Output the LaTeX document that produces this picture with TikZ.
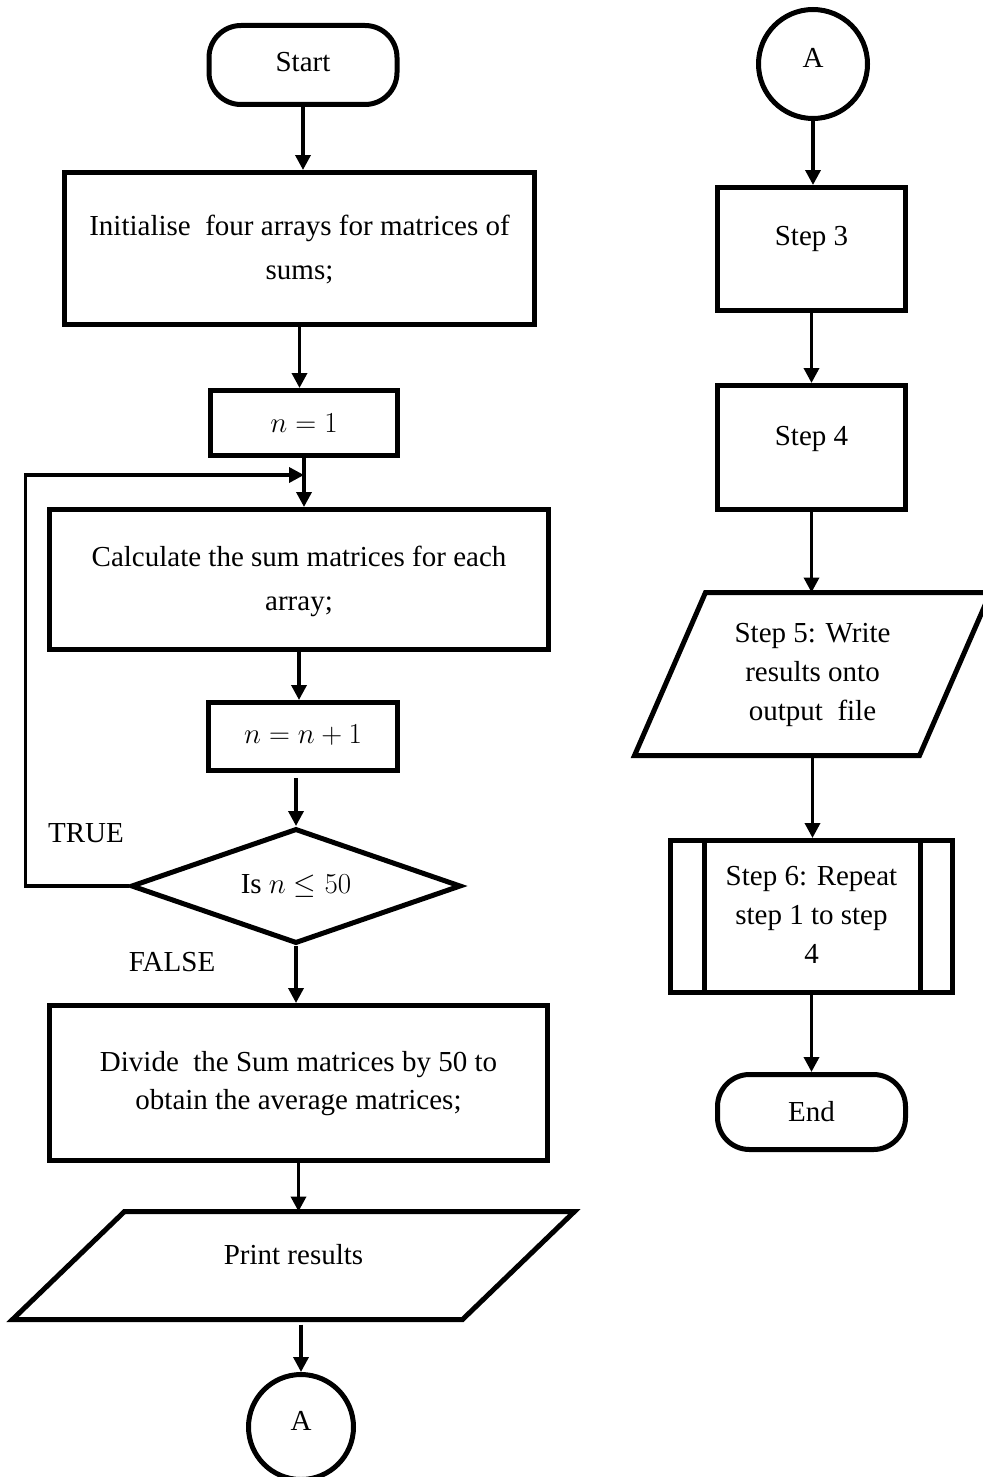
\RequirePackage{fix-cm}
\documentclass[tikz,border=0pt]{standalone}
\usepackage{fontspec}
\setmainfont{Liberation Serif}
\usetikzlibrary{arrows.meta,shapes.geometric}

% Text block for a shape: raised by #1, baselineskip #2, lines #3
\newcommand\liftedtext[3]{\raisebox{#1}{\fontsize{29}{#2}\selectfont
  \setbox\strutbox\hbox{\vrule height.7\baselineskip depth.3\baselineskip width0pt}%
  \begin{tabular}{@{}c@{}}#3\end{tabular}}}

\begin{document}
\begin{tikzpicture}[x=1pt,y=-1pt,
  every node/.style={font=\fontsize{29}{35}\selectfont, inner sep=0pt},
  shape line/.style={draw, line width=5pt},
  flowbox/.style args={#1x#2}{shape line, rectangle, minimum width=#1pt, minimum height=#2pt},
  terminal/.style args={#1x#2}{shape line, rectangle, rounded corners=32pt, minimum width=#1pt, minimum height=#2pt},
  connector/.style={shape line, circle, minimum size=#1pt},
  decision/.style args={#1x#2}{shape line, diamond, aspect=2.8, minimum width=#1pt, minimum height=#2pt},
  slantbox/.style args={#1x#2}{rectangle, outer sep=0pt, minimum width=#1pt, minimum height=#2pt},
  flowarrow/.style={line width=3.5pt, -{Triangle[length=15pt,width=15pt]}}]

\useasboundingbox (0,0) rectangle (982,1477);

% ---- left column ----
\node[terminal=188x79] (start) at (303,65) {\liftedtext{6pt}{35pt}{Start}};
\node[flowbox=470x152] (init) at (299.5,248.5)
  {\liftedtext{7pt}{44pt}{Initialise\ \ four arrays for matrices of\\sums;}};
\node[flowbox=187x65] (n1) at (304,423) {$n=1$};
\node[flowbox=499x140] (calc) at (299,579.5)
  {\liftedtext{0pt}{44pt}{Calculate the sum matrices for each\\array;}};
\node[flowbox=189x68] (nn1) at (303,736.5) {\liftedtext{8pt}{35pt}{$n=n+1$}};
\node[decision=330x115] (dec) at (296,886) {Is $n\leq 50$};
\node[flowbox=498x155] (divide) at (298.5,1083)
  {\liftedtext{0pt}{38pt}{Divide\ \ the Sum matrices by 50 to\\obtain the average matrices;}};
\node[slantbox=562x108] (print) at (293.5,1265.5) {\liftedtext{27pt}{35pt}{Print results}};
\draw[shape line] ([xshift=112]print.north west) -- (print.north east)
  -- ([xshift=-112]print.south east) -- (print.south west) -- cycle;
\node[connector=105] (Aleft) at (301,1427) {\liftedtext{18pt}{35pt}{A}};

\node (truelbl) at (86,833) {TRUE};
\node (falselbl) at (172,962) {FALSE};

\coordinate (join) at ([yshift=-17]n1.south);

\draw[flowarrow] (start.south) -- (start.south |- init.north);
\draw[flowarrow] (init.south) -- (init.south |- n1.north);
\draw[flowarrow] (n1.south) -- (n1.south |- calc.north);
\draw[flowarrow] (calc.south) -- (calc.south |- nn1.north);
\draw[flowarrow, shorten <=5pt] (dec.north |- nn1.south) -- (dec.north);
\draw[flowarrow] (dec.west) -- ++(-103,0) |- (join);
\draw[flowarrow] (dec.south) -- (dec.south |- divide.north);
\draw[flowarrow] (divide.south) -- (divide.south |- print.north);
\draw[flowarrow, shorten <=5pt] (Aleft.north |- print.south) -- (Aleft.north);

% ---- right column ----
\node[connector=109] (Aright) at (813,64) {\liftedtext{18pt}{35pt}{A}};
\node[flowbox=188x123] (s3) at (811.5,249) {\liftedtext{32pt}{35pt}{Step 3}};
\node[flowbox=188x124] (s4) at (811.5,447.5) {\liftedtext{29pt}{35pt}{Step 4}};
\node[slantbox=356x163] (s5) at (812.5,674)
  {\liftedtext{32pt}{39pt}{Step 5: Write\\results onto\\output\ \ file}};
\draw[shape line] ([xshift=71]s5.north west) -- (s5.north east)
  -- ([xshift=-71]s5.south east) -- (s5.south west) -- cycle;
\node[flowbox=282x152] (s6) at (811.5,916.5)
  {\liftedtext{21pt}{39pt}{Step 6: Repeat\\step 1 to step\\4}};
\draw[shape line] ([xshift=36]s6.north west) -- ([xshift=36]s6.south west)
  ([xshift=-35]s6.north east) -- ([xshift=-35]s6.south east);
\node[terminal=188x75] (end) at (811.5,1112) {End};

\draw[flowarrow] (Aright.south) -- (Aright.south |- s3.north);
\draw[flowarrow] (s3.south) -- (s3.south |- s4.north);
\draw[flowarrow] (s4.south) -- (s4.south |- s5.north);
\draw[flowarrow] (s5.south) -- (s5.south |- s6.north);
\draw[flowarrow] (s6.south) -- (s6.south |- end.north);
\end{tikzpicture}
\end{document}
